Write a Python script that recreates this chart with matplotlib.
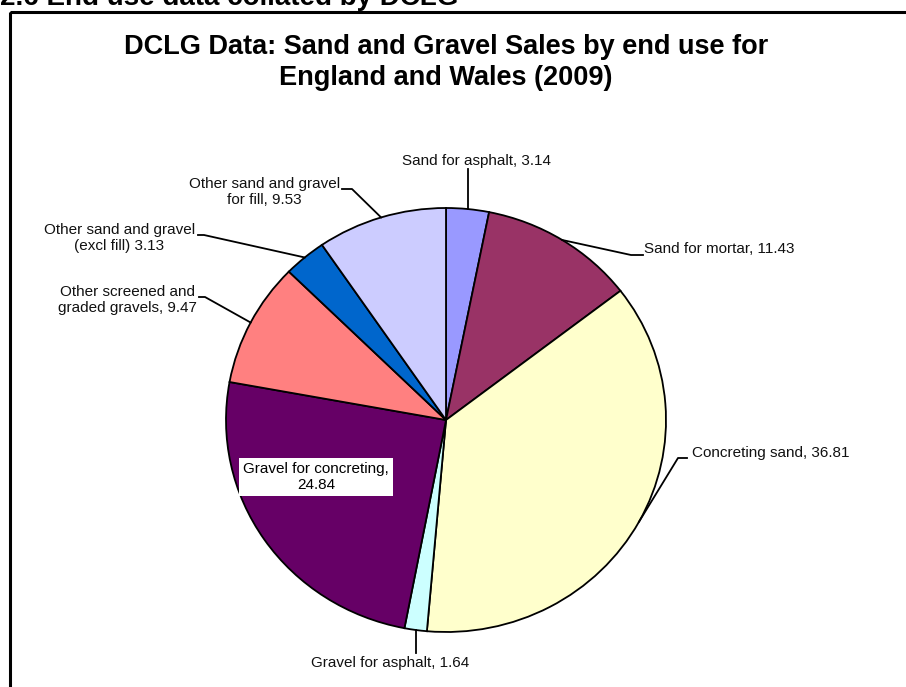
"""DCLG sand and gravel end-use pie chart."""

import numpy as np
import matplotlib.pyplot as plt
from matplotlib.patches import Rectangle

plt.rcParams["font.family"] = ["Liberation Sans", "DejaVu Sans"]

categories = [
    "Sand for asphalt",
    "Sand for mortar",
    "Concreting sand",
    "Gravel for asphalt",
    "Gravel for concreting",
    "Other screened and graded gravels",
    "Other sand and gravel (excl fill)",
    "Other sand and gravel for fill",
]
values = [3.14, 11.43, 36.81, 1.64, 24.84, 9.47, 3.13, 9.53]
label_texts = [
    "Sand for asphalt, 3.14",
    "Sand for mortar, 11.43",
    "Concreting sand, 36.81",
    "Gravel for asphalt, 1.64",
    "Gravel for concreting,\n24.84",
    "Other screened and\ngraded gravels, 9.47",
    "Other sand and gravel\n(excl fill) 3.13",
    "Other sand and gravel\nfor fill, 9.53",
]
colors = ["#9999FF", "#993366", "#FFFFCC", "#CCFFFF",
          "#660066", "#FF8080", "#0066CC", "#CCCCFF"]

W, H = 906, 687
fig = plt.figure(figsize=(W / 100, H / 100), dpi=100)

# pie sits in its own axes so it can be slightly wider than tall
cx, cy, rx, ry = 446, 420, 220, 212
ax_pie = fig.add_axes([(cx - rx) / W, (H - cy - ry) / H, 2 * rx / W, 2 * ry / H])
wedges, _ = ax_pie.pie(values, colors=colors, startangle=90, counterclock=False,
                       radius=1, wedgeprops=dict(edgecolor="black", linewidth=1.3))
ax_pie.set_aspect("auto")
ax_pie.set_xlim(-1, 1)
ax_pie.set_ylim(-1, 1)
ax_pie.axis("off")
ax_pie.set_zorder(0)

ax = fig.add_axes([0, 0, 1, 1])
ax.set_xlim(0, W)
ax.set_ylim(H, 0)
ax.axis("off")
ax.set_zorder(1)

# section heading (cut off at the top) and chart frame
ax.text(0, 5, "2.6 End use data collated by DCLG", fontsize=20,
        fontweight="bold", ha="left", va="baseline")
ax.add_patch(Rectangle((10, 12), W + 20, H + 20, fill=False,
                       edgecolor="black", linewidth=2.2))

ax.text(446, 47, "DCLG Data: Sand and Gravel Sales by end use for",
        fontsize=19.5, fontweight="bold", ha="center", va="center")
ax.text(446, 78, "England and Wales (2009)",
        fontsize=19.5, fontweight="bold", ha="center", va="center")

# label placement: text x, text y, ha, leader start x, y, tick length
layout = [
    (477, 161, "center", 469, 169, 0),
    (644, 249, "left", 631, 255, 12),
    (692, 453, "left", 678, 458, 9),
    (390, 663, "center", 416, 653, 0),
    None,
    (197, 300, "right", 199, 297, 6),
    (195, 238, "right", 198, 235, 6),
    (340, 192, "right", 342, 189, 10),
]

for w, txt, lay in zip(wedges, label_texts, layout):
    mid = np.deg2rad((w.theta1 + w.theta2) / 2)
    ex = cx + rx * np.cos(mid)
    ey = cy - ry * np.sin(mid)
    if lay is None:
        ax.text(316, 477, txt, fontsize=11, ha="center", va="center",
                linespacing=1.2,
                bbox=dict(boxstyle="square,pad=0.26", facecolor="white",
                          edgecolor="none"))
        continue
    tx, ty, ha, lx, ly, tick = lay
    ax.text(tx, ty, txt, fontsize=11, ha=ha, va="center",
            multialignment="center", linespacing=1.27, color="#111111")
    if tick == 0:
        ax.plot([ex, ex], [ly, ey], color="black", linewidth=1.3)
    elif ha == "left":
        ax.plot([lx + tick, lx, ex], [ly, ly, ey], color="black", linewidth=1.3)
    else:
        ax.plot([lx, lx + tick, ex], [ly, ly, ey], color="black", linewidth=1.3)

fig.savefig("out.png", dpi=100, facecolor="white")
